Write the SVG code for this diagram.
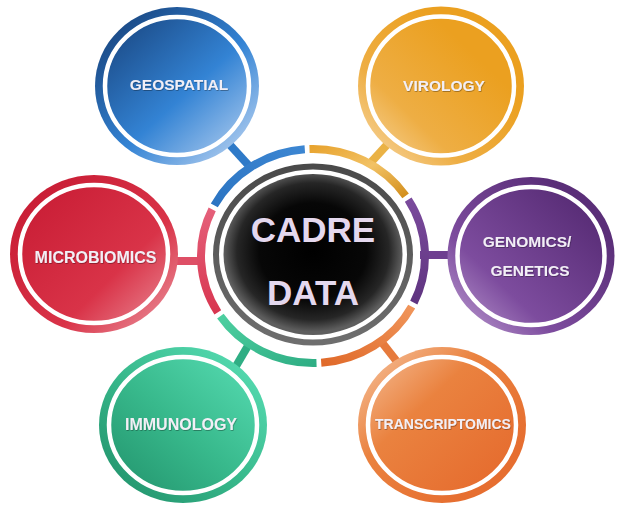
<svg xmlns="http://www.w3.org/2000/svg" width="625" height="515" viewBox="0 0 625 515">
<defs>
<style>
.lbl{font-family:"Liberation Sans",Arial,sans-serif;font-weight:bold;fill:#f2eff6;text-anchor:middle;filter:url(#ts)}
.hubt{font-family:"Liberation Sans",Arial,sans-serif;font-weight:bold;font-size:35px;fill:#e4d8ee;text-anchor:middle}
.ring{fill:none;stroke:#ffffff;stroke-width:4.5}
.seg{fill:none;stroke-width:8}
.con{stroke-width:8;fill:none}
</style>
<filter id="ts" x="-10%" y="-40%" width="120%" height="180%">
<feDropShadow dx="0.6" dy="0.9" stdDeviation="0.7" flood-color="#000" flood-opacity="0.35"/>
</filter>
<linearGradient id="gGeo" x1="0.15" y1="0.1" x2="0.9" y2="0.9"><stop offset="0" stop-color="#1b4a86"/><stop offset="0.55" stop-color="#3383d4"/><stop offset="1" stop-color="#a9c9ee"/></linearGradient>
<linearGradient id="gVir" x1="0" y1="1" x2="0.7" y2="0.3"><stop offset="0" stop-color="#f8dcae"/><stop offset="0.45" stop-color="#eeae44"/><stop offset="1" stop-color="#eba020"/></linearGradient>
<linearGradient id="gGen" x1="0" y1="1" x2="0.8" y2="0.2"><stop offset="0" stop-color="#c2a4d6"/><stop offset="0.4" stop-color="#7d4c9e"/><stop offset="1" stop-color="#5a2e78"/></linearGradient>
<linearGradient id="gMic" x1="0.1" y1="0.1" x2="1" y2="0.95"><stop offset="0" stop-color="#c81c34"/><stop offset="0.6" stop-color="#d93348"/><stop offset="1" stop-color="#eb949e"/></linearGradient>
<linearGradient id="gImm" x1="0.1" y1="0.95" x2="0.9" y2="0.1"><stop offset="0" stop-color="#22936c"/><stop offset="0.5" stop-color="#38b98c"/><stop offset="1" stop-color="#55dab0"/></linearGradient>
<linearGradient id="gTra" x1="0.1" y1="0.1" x2="0.8" y2="0.8"><stop offset="0" stop-color="#f3b488"/><stop offset="0.4" stop-color="#ea823f"/><stop offset="1" stop-color="#e66e30"/></linearGradient>
<linearGradient id="sBlue" x1="0" y1="1" x2="1" y2="0"><stop offset="0" stop-color="#2b74c2"/><stop offset="1" stop-color="#3c86d2"/></linearGradient>
<linearGradient id="sYel" x1="0" y1="0" x2="1" y2="1"><stop offset="0" stop-color="#e8a430"/><stop offset="0.5" stop-color="#f2c265"/><stop offset="1" stop-color="#d38f1d"/></linearGradient>
<linearGradient id="sPur" x1="0" y1="0" x2="0" y2="1"><stop offset="0" stop-color="#7a4a9c"/><stop offset="1" stop-color="#5f3480"/></linearGradient>
<linearGradient id="sOra" x1="1" y1="0" x2="0" y2="1"><stop offset="0" stop-color="#f0955a"/><stop offset="1" stop-color="#e06a2a"/></linearGradient>
<linearGradient id="sGre" x1="1" y1="1" x2="0" y2="0"><stop offset="0" stop-color="#2fae84"/><stop offset="1" stop-color="#4dcfa0"/></linearGradient>
<linearGradient id="sPin" x1="0" y1="0" x2="0" y2="1"><stop offset="0" stop-color="#e5607a"/><stop offset="1" stop-color="#d83650"/></linearGradient>
<linearGradient id="gGray" x1="0" y1="0" x2="0" y2="1"><stop offset="0" stop-color="#4a4a4a"/><stop offset="1" stop-color="#6e6e6e"/></linearGradient>
<radialGradient id="gBlack" cx="0.5" cy="0.48" r="0.5"><stop offset="0" stop-color="#000"/><stop offset="0.6" stop-color="#070707"/><stop offset="0.85" stop-color="#262626"/><stop offset="1" stop-color="#5e5e5e"/></radialGradient>
</defs>
<rect width="625" height="515" fill="#ffffff"/>
<g id="connectors">
<line class="con" x1="220" y1="134" x2="251" y2="168" stroke="#2f7ac8"/>
<line class="con" x1="395" y1="136" x2="369" y2="164.5" stroke="#eab245"/>
<line class="con" x1="420" y1="255" x2="460" y2="255" stroke="#6e3f90"/>
<line class="con" x1="165" y1="261" x2="201" y2="261" stroke="#de4f66"/>
<line class="con" x1="232" y1="373" x2="249" y2="344" stroke="#2fae84"/>
<line class="con" x1="402" y1="368" x2="380" y2="340" stroke="#e67a3c"/>
</g>
<g id="hub">
<path class="seg" stroke="url(#sBlue)" d="M214.3 205.4 A112 107 0 0 1 304.8 149.3"/>
<path class="seg" stroke="url(#sYel)" d="M309.5 149.1 A112 107 0 0 1 405.6 195.9"/>
<path class="seg" stroke="url(#sPur)" d="M408.2 199.6 A112 107 0 0 1 413.8 302.6"/>
<path class="seg" stroke="url(#sOra)" d="M411.7 306.6 A112 107 0 0 1 321.2 362.7"/>
<path class="seg" stroke="url(#sGre)" d="M316.5 362.9 A112 107 0 0 1 220.4 316.1"/>
<path class="seg" stroke="url(#sPin)" d="M217.8 312.4 A112 107 0 0 1 212.2 209.4"/>
<ellipse cx="313" cy="254.5" rx="97" ry="88" fill="none" stroke="url(#gGray)" stroke-width="6"/>
<ellipse cx="313" cy="254.5" rx="89.5" ry="80.5" fill="url(#gBlack)"/>
<text class="hubt" x="313" y="242">CADRE</text>
<text class="hubt" x="313" y="305">DATA</text>
</g>
<g id="geospatial">
<ellipse cx="177" cy="86" rx="82" ry="79" fill="url(#gGeo)"/>
<ellipse class="ring" cx="177" cy="86" rx="72" ry="69"/>
<text class="lbl" x="179" y="89.5" font-size="15.5">GEOSPATIAL</text>
</g>
<g id="virology">
<ellipse cx="441" cy="86" rx="83" ry="79.5" fill="url(#gVir)"/>
<ellipse class="ring" cx="441" cy="86" rx="73" ry="69.5"/>
<text class="lbl" x="444" y="90.5" font-size="15.5">VIROLOGY</text>
</g>
<g id="genomics">
<ellipse cx="531" cy="256" rx="83.5" ry="79" fill="url(#gGen)"/>
<ellipse class="ring" cx="531" cy="256" rx="73.5" ry="69"/>
<text class="lbl" x="527" y="246.5" font-size="15.5">GENOMICS/</text>
<text class="lbl" x="530" y="276" font-size="15.5">GENETICS</text>
</g>
<g id="microbiomics">
<ellipse cx="94" cy="254" rx="84" ry="79" fill="url(#gMic)"/>
<ellipse class="ring" cx="94" cy="254" rx="74" ry="69"/>
<text class="lbl" x="95.5" y="262.5" font-size="16">MICROBIOMICS</text>
</g>
<g id="immunology">
<ellipse cx="183" cy="425" rx="84" ry="78" fill="url(#gImm)"/>
<ellipse class="ring" cx="183" cy="425" rx="74" ry="68"/>
<text class="lbl" x="181" y="430" font-size="16">IMMUNOLOGY</text>
</g>
<g id="transcriptomics">
<ellipse cx="442" cy="425" rx="84" ry="78" fill="url(#gTra)"/>
<ellipse class="ring" cx="442" cy="425" rx="74" ry="68"/>
<text class="lbl" x="443" y="429" font-size="14">TRANSCRIPTOMICS</text>
</g>
</svg>
